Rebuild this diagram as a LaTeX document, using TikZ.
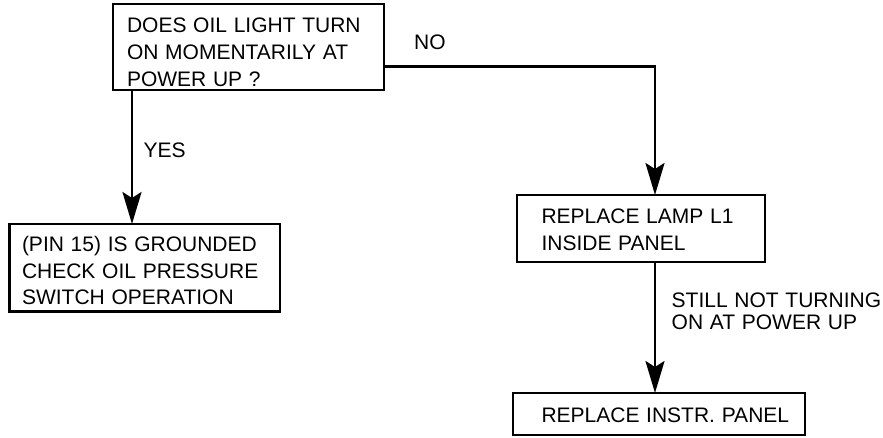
\documentclass[tikz,border=0pt]{standalone}
\usepackage{fontspec}
\setmainfont[WordSpace=1.15]{Liberation Sans}
\usetikzlibrary{arrows.meta}
\newcommand{\boxtext}[4]{\raisebox{-#2}[\height][\depth]{\makebox[#1][l]{\fontsize{21}{#3}\selectfont\begin{tabular}{@{}l@{}}#4\end{tabular}}}}
\newcommand{\lbltext}[2]{\fontsize{21}{#1}\selectfont\begin{tabular}[t]{@{}l@{}}#2\end{tabular}}
\begin{document}
\begin{tikzpicture}[x=1pt,y=-1pt,
  box/.style={draw,line width=2.7pt,anchor=center,inner sep=0pt,outer sep=0pt},
  lbl/.style={anchor=base west,inner sep=0pt},
  arr/.style={line width=2.7pt,-{Stealth[length=32pt,width=19pt,inset=6pt]}}]
\useasboundingbox (0,0) rectangle (883,437);
\node[box,minimum width=271pt,minimum height=86pt] (q) at (248.5,47)
  {\boxtext{243pt}{6.6pt}{27pt}{DOES OIL LIGHT TURN\\ON MOMENTARILY AT\\POWER UP ?}};
\node[box,minimum width=270.7pt,minimum height=87.5pt] (g) at (144.65,267.75)
  {\boxtext{245.3pt}{5.4pt}{26.5pt}{(PIN 15) IS GROUNDED\\CHECK OIL PRESSURE\\SWITCH OPERATION}};
\node[box,minimum width=248pt,minimum height=67pt] (lamp) at (641,228.5)
  {\boxtext{199pt}{2.6pt}{27pt}{REPLACE LAMP L1\\INSIDE PANEL}};
\node[box,minimum width=292pt,minimum height=42pt] (panel) at (659,414)
  {\boxtext{235pt}{3.9pt}{24pt}{REPLACE INSTR. PANEL}};
\coordinate (yesx) at (132,0);
\coordinate (corner) at (655,66.5);
\draw[arr] (q.south -| yesx) -- (g.north -| yesx);
\draw[arr] (q.east |- corner) -- (corner) -- (lamp.north -| corner);
\draw[arr] (lamp.south -| corner) -- (panel.north -| corner);
\node[lbl] (no) at (414,49) {\lbltext{24pt}{NO}};
\node[lbl] (yes) at (143.3,157) {\lbltext{24pt}{YES}};
\node[lbl] (still) at (671.5,307.6) {\lbltext{21.7pt}{STILL NOT TURNING\\ON AT POWER UP}};
\end{tikzpicture}
\end{document}
